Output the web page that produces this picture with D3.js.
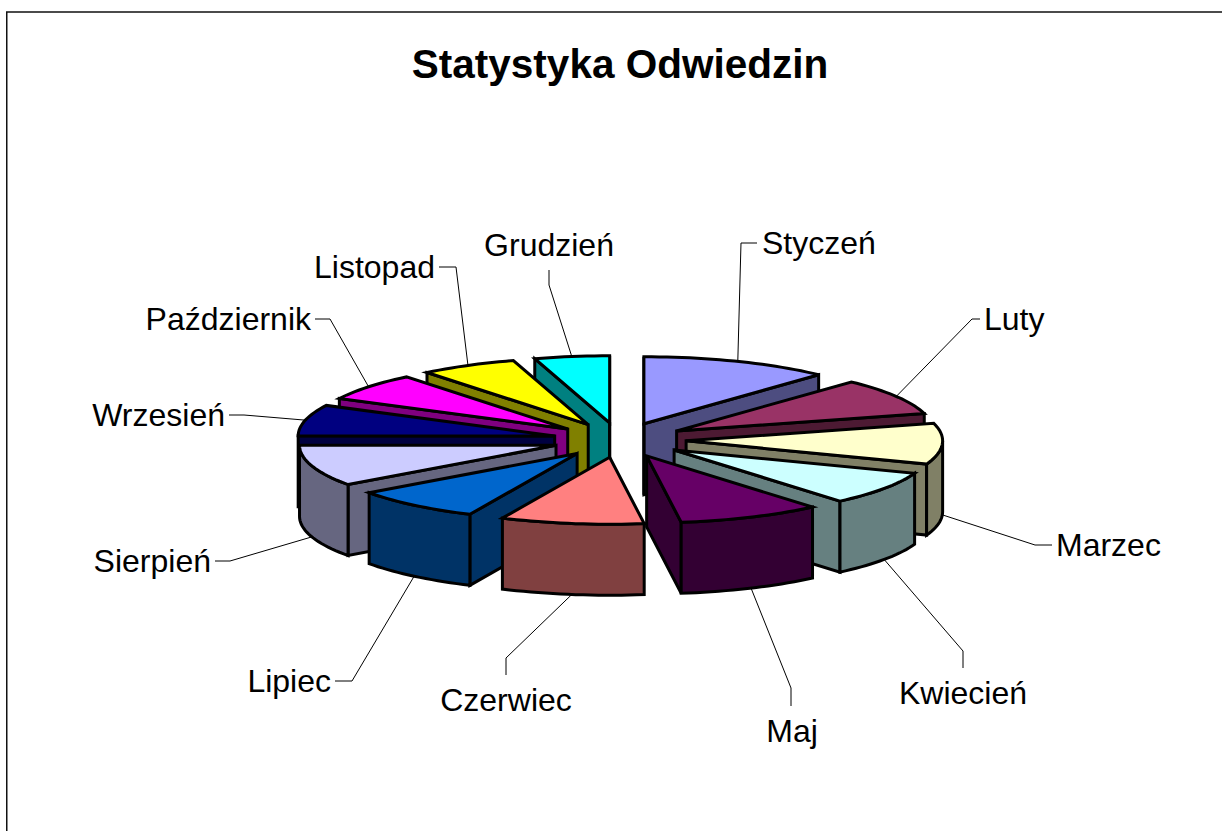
<!DOCTYPE html>
<html lang="pl">
<head>
<meta charset="utf-8">
<title>Statystyka Odwiedzin</title>
<script src="https://cdn.jsdelivr.net/npm/d3@7/dist/d3.min.js"></script>
<style>
	html, body { margin: 0; padding: 0; background: #fff; }
	svg { display: block; }
	text { font-family: "Liberation Sans", Arial, sans-serif; fill: #000; }
</style>
</head>
<body>
<script>
// values (share of the circle, in visits)
var months = ["Styczeń","Luty","Marzec","Kwiecień","Maj","Czerwiec","Lipiec","Sierpień","Wrzesień","Październik","Listopad","Grudzień"];
var visits = [430,320,355,294,326,325,295,360,270,240,220,170];
var topColors = ["#9999FF","#993366","#FFFFCC","#CCFFFF","#660066","#FF8080","#0066CC","#CCCCFF","#000080","#FF00FF","#FFFF00","#00FFFF"];
var sideColors = ["#4D4D80","#4D1A33","#808066","#668080","#330033","#804040","#003366","#666680","#000040","#800080","#808000","#008080"];

// hand placed label layout: elbow of the leader, end of the leader, label anchor
var labelLayout = [
	{elbow:[741,243], end:[757,243], text:[762,243], anchor:"start"},
	{elbow:[972,319], end:[980,319], text:[984,319], anchor:"start"},
	{elbow:[1035,545], end:[1052,545], text:[1056,545], anchor:"start"},
	{elbow:[963,651], end:[963,668], text:[963,693], anchor:"middle"},
	{elbow:[791,688], end:[791,706], text:[792,731], anchor:"middle"},
	{elbow:[506,658], end:[506,675], text:[506,700], anchor:"middle"},
	{elbow:[352,681], end:[335,681], text:[331,681], anchor:"end"},
	{elbow:[230,561], end:[215,561], text:[211,561], anchor:"end"},
	{elbow:[244,415], end:[229,415], text:[225,415], anchor:"end"},
	{elbow:[330,319], end:[315,319], text:[311,319], anchor:"end"},
	{elbow:[456,267], end:[439,267], text:[435,267], anchor:"end"},
	{elbow:[549,285], end:[549,270], text:[549,245], anchor:"middle"}
];

var width = 1222, height = 831;
var cx = 619.5, cy = 440;
var rx = 256.5, ry = 67, depth = 71;
var explode = 0.26;

var svg = d3.select("body").append("svg")
	.attr("width", width)
	.attr("height", height);

svg.append("rect")
	.attr("x", 6.75).attr("y", 12)
	.attr("width", 1300).attr("height", 1300)
	.attr("fill", "#fff").attr("stroke", "#111").attr("stroke-width", 1.5);

svg.append("text")
	.attr("x", 620).attr("y", 78)
	.attr("text-anchor", "middle")
	.style("font-size", "40.5px").style("font-weight", "bold")
	.text("Statystyka Odwiedzin");

var pie = d3.pie().sort(null);
var slices = pie(visits).map(function(d, i){
	d.i = i;
	d.mid = (d.startAngle + d.endAngle) / 2;
	d.tip = [cx + explode * rx * Math.sin(d.mid), cy - explode * ry * Math.cos(d.mid)];
	return d;
});

// point on the flattened circle of one slice, dz pushes it down to the bottom face
function rim(d, a, dz){
	return [d.tip[0] + rx * Math.sin(a), d.tip[1] - ry * Math.cos(a) + (dz || 0)];
}
var line = d3.line();

function arcPoints(d, a0, a1, dz){
	var n = Math.max(2, Math.ceil(Math.abs(a1 - a0) / 0.03));
	return d3.range(n + 1).map(function(k){ return rim(d, a0 + (a1 - a0) * k / n, dz); });
}
function radialWall(d, a){
	var p = rim(d, a);
	return line([d.tip, p, [p[0], p[1] + depth], [d.tip[0], d.tip[1] + depth]]) + "Z";
}

// leaders go under the slices
var leaders = svg.append("g");
slices.forEach(function(d){
	var l = labelLayout[d.i];
	var front = d.mid > Math.PI / 2 && d.mid < Math.PI * 1.5;
	var start = rim(d, d.mid, front ? depth : 0);
	leaders.append("path")
		.attr("d", line([start, l.elbow, l.end]))
		.attr("fill", "none").attr("stroke", "#000").attr("stroke-width", 1);
	svg.append("text")
		.attr("x", l.text[0]).attr("y", l.text[1])
		.attr("dy", "0.35em")
		.attr("text-anchor", l.anchor)
		.style("font-size", "32px")
		.text(months[d.i]);
});

// painter order, back slices first
var order = slices.slice().sort(function(a, b){ return d3.ascending(-Math.cos(a.mid), -Math.cos(b.mid)); });
var stroke = {"stroke":"#000", "stroke-width":3, "stroke-linejoin":"miter"};

order.forEach(function(d){
	var g = svg.append("g").attr("class", "slice");
	Object.keys(stroke).forEach(function(k){ g.attr(k, stroke[k]); });
	var side = sideColors[d.i];

	if (Math.sin(d.startAngle) < -1e-6) g.append("path").attr("d", radialWall(d, d.startAngle)).attr("fill", side);
	if (Math.sin(d.endAngle) > -1e-6 && d.endAngle < Math.PI) g.append("path").attr("d", radialWall(d, d.endAngle)).attr("fill", side);
	if (d.endAngle > Math.PI * 2 - 1e-6) g.append("path").attr("d", radialWall(d, d.endAngle)).attr("fill", side);
	if (d.i == 0) g.append("path").attr("d", radialWall(d, d.startAngle)).attr("fill", side);

	// outer curved wall, only the part facing the viewer
	var a0 = Math.max(d.startAngle, Math.PI / 2), a1 = Math.min(d.endAngle, Math.PI * 1.5);
	if (a1 > a0) {
		var top = arcPoints(d, a0, a1, 0), bottom = arcPoints(d, a1, a0, depth);
		g.append("path").attr("d", line(top.concat(bottom)) + "Z").attr("fill", side);
	}

	var pts = [d.tip].concat(arcPoints(d, d.startAngle, d.endAngle, 0));
	g.append("path").attr("d", line(pts) + "Z").attr("fill", topColors[d.i]);
});
</script>
</body>
</html>
